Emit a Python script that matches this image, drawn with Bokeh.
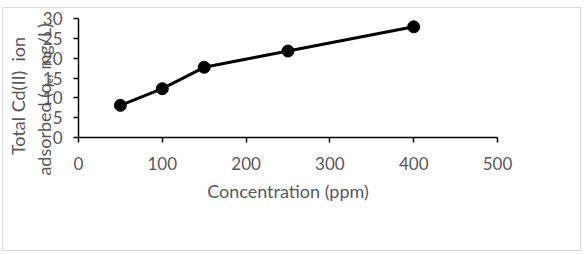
from bokeh.plotting import figure
from bokeh.models import Range1d, FixedTicker, LinearAxis
from bokeh.embed import file_html
from bokeh.resources import INLINE

concentration = [50, 100, 150, 250, 400]
qe = [8.1, 12.3, 17.7, 21.8, 27.9]
x_ticks = [0, 100, 200, 300, 400, 500]
y_ticks = [0, 5, 10, 15, 20, 25, 30]
x_title = "Concentration (ppm)"
y_title_1 = "Total Cd(II)\u00a0 ion"
y_title_2 = "adsorbed (q\u2091, mg/L)"

FONT = "Lato"
GREY = "#595959"

# trailing em/en/thin spaces shift each centred title line towards the bottom, as in the reference
y_title = (y_title_1 + "\u2003\u2003\u2002" + "\n" +
           y_title_2 + "\u2003\u2003\u2003\u2009")

p = figure(width=579, height=244, output_backend="svg", toolbar_location=None,
           x_range=Range1d(0, 500), y_range=Range1d(0, 30),
           min_border_left=75, min_border_right=85, min_border_top=10, min_border_bottom=115)
p.styles = {"margin-left": "2px", "margin-top": "7px", "border": "1px solid #d9d9d9"}
p.outline_line_color = None
p.xgrid.visible = False
p.ygrid.visible = False
p.background_fill_color = "white"
p.border_fill_color = "white"

for ax in (p.xaxis[0], p.yaxis[0]):
    ax.major_label_text_font = FONT
    ax.major_label_text_font_size = "17px"
    ax.major_label_text_color = GREY
    ax.axis_line_color = "black"
    ax.axis_line_width = 1.5
    ax.major_tick_line_color = "black"
    ax.major_tick_line_width = 1.5
    ax.major_tick_in = 0
    ax.major_tick_out = 5
    ax.minor_tick_line_color = None

p.xaxis.ticker = FixedTicker(ticks=x_ticks)
p.yaxis.ticker = FixedTicker(ticks=y_ticks)
p.xaxis.major_label_standoff = 14
p.yaxis.major_label_standoff = 11
p.xaxis.axis_label = x_title
p.xaxis.axis_label_text_font = FONT
p.xaxis.axis_label_text_font_size = "18px"
p.xaxis.axis_label_text_font_style = "normal"
p.xaxis.axis_label_text_color = GREY
p.xaxis.axis_label_standoff = 7

# separate label-only axis for the two-line y title (overlapping tick labels as in the reference)
lab = LinearAxis(ticker=FixedTicker(ticks=[]),
                 axis_line_color=None, major_tick_line_color=None,
                 minor_tick_line_color=None, major_label_text_font_size="0px",
                 major_label_standoff=0, major_tick_out=0,
                 axis_label=y_title, axis_label_text_font=FONT,
                 axis_label_text_font_size="18px", axis_label_text_font_style="normal",
                 axis_label_text_color=GREY, axis_label_standoff=-15,
                 axis_label_text_line_height=1.17)
p.add_layout(lab, "left")

p.line(concentration, qe, line_width=3, color="black")
p.scatter(concentration, qe, size=12, color="black")

open("out.html", "w").write(file_html(p, INLINE))
